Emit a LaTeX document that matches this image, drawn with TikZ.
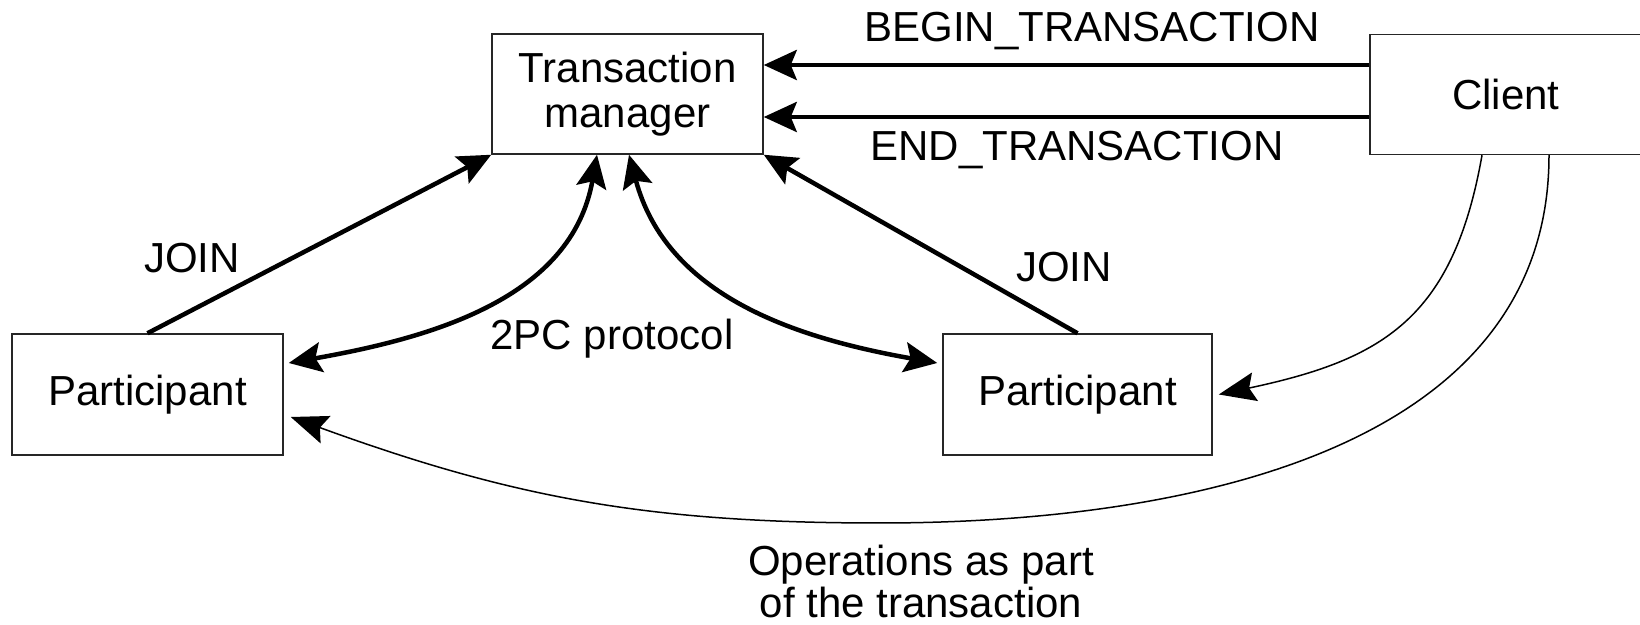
\documentclass[tikz,border=0pt]{standalone}
\usepackage{fontspec}
\setmainfont{Liberation Sans}
\usetikzlibrary{arrows.meta}

\begin{document}
\begin{tikzpicture}[x=0.5pt,y=-0.5pt,
  every node/.style={font=\fontsize{21}{22.5}\selectfont},
  box/.style={draw=black!85,line width=0.75pt,inner sep=0pt,minimum width=135.5pt,minimum height=60pt,align=center},
  bigarrow/.style={line width=2.25pt,-{Stealth[length=16.5pt,width=15pt,inset=3pt]}},
  twoway/.style={line width=2.25pt,{Stealth[length=16.5pt,width=15pt,inset=3pt]}-{Stealth[length=16.5pt,width=15pt,inset=3pt]}},
  thinarrow/.style={line width=0.75pt,-{Stealth[length=18.5pt,width=14.5pt,inset=3pt]}},
  lbl/.style={inner sep=0pt,anchor=base}]
\useasboundingbox (0,0) rectangle (1640,625);
\clip (0,0) rectangle (1640,625);
% boxes
\node[box] (tm) at (627.5,94) {Transaction\\manager};
\node[box,minimum width=136pt] (client) at (1506,94.5) {Client};
\node[box,minimum height=60.5pt] (pl) at (147.5,394.5) {Participant};
\node[box,minimum width=134.5pt,minimum height=60.5pt] (pr) at (1077.5,394.5) {Participant};
% client to manager
\draw[bigarrow] ([yshift=14.75pt]client.west) -- ([yshift=14.75pt]client.west -| tm.east);
\draw[bigarrow] ([yshift=-11.25pt]client.west) -- ([yshift=-11.25pt]client.west -| tm.east);
\node[lbl] (begin) at (1092,42) {BEGIN\_TRANSACTION};
\node[lbl] (end) at (1077,161) {END\_TRANSACTION};
% join
\draw[bigarrow] (pl.north) -- (tm.south west);
\draw[bigarrow] (pr.north) -- (tm.south east);
\node[lbl] (joinl) at (192,273) {JOIN};
\node[lbl] (joinr) at (1064,282) {JOIN};
% 2PC
\draw[twoway] ([xshift=2.5pt,yshift=15.75pt]pl.east) to[out=10,in=-100] ([xshift=-15.25pt]tm.south);
\draw[twoway] ([xshift=0.75pt]tm.south) to[out=-75,in=170] ([xshift=-2.5pt,yshift=15.75pt]pr.west);
\node[lbl] (twopc) at (612,350) {2PC protocol};
% operations
\coordinate (opsbot) at (880,523);
\draw[thinarrow] ([xshift=-12pt]client.south) to[out=-100,in=12,looseness=1.2] ([xshift=3pt]pr.east);
\draw[thinarrow] ([xshift=21.5pt]client.south) to[out=-90,in=0] (opsbot) to[out=180,in=-20] ([xshift=3.5pt,yshift=-11.25pt]pl.east);
\node[inner sep=0pt,align=center,font=\fontsize{21}{21}\selectfont] (ops) at (921,581) {Operations as part\\of the transaction};
\end{tikzpicture}
\end{document}
